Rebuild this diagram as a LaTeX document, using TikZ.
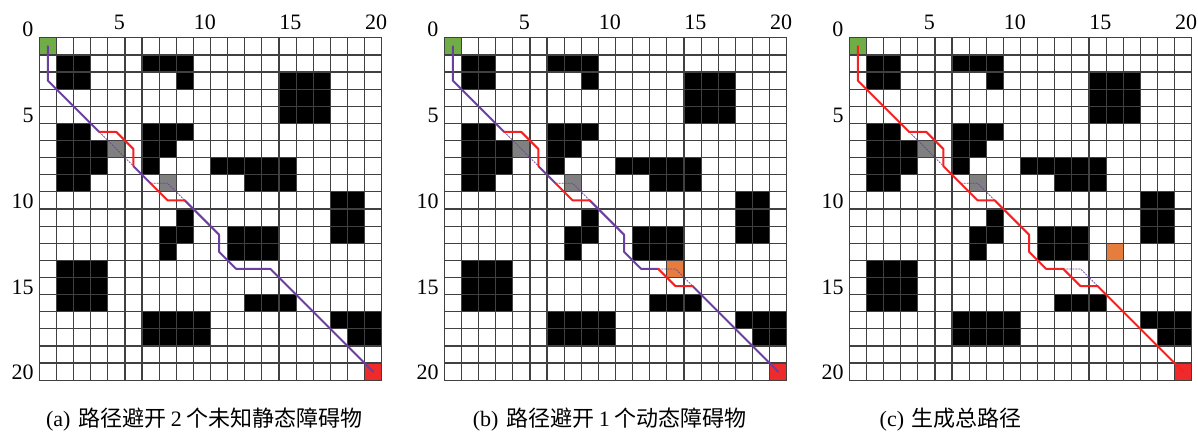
\documentclass[tikz,border=0pt]{standalone}
\usepackage{fontspec}
\setmainfont{Liberation Serif}
\newfontfamily\cjk{Noto Sans CJK SC}
\definecolor{cgreen}{HTML}{70AD47}
\definecolor{cgray}{HTML}{808080}
\definecolor{corange}{HTML}{E67C3E}
\definecolor{cred}{HTML}{EE2A2A}
\definecolor{pred}{HTML}{F62020}
\definecolor{ppurple}{HTML}{6B3FA0}
\tikzset{
  obst/.style={fill=black},
  gridln/.style={draw=black!75, line width=1.2pt, line cap=butt},
  purp/.style={draw=ppurple, line width=2pt, line join=round, line cap=round},
  redp/.style={draw=pred, line width=2pt, line join=round, line cap=round},
  orig/.style={draw=ppurple, line width=0.7pt, dash pattern=on 2pt off 1pt},
  lbl/.style={font=\fontsize{22}{22}\selectfont, inner sep=0pt},
  captext/.style={font=\fontsize{22}{22}\selectfont, inner sep=0pt, anchor=base east},
}
\newcommand\capgap{\hspace{0.22em}}
\newcommand\basemap{%
  \fill[cgreen] (0,0) rectangle (1,1);
  \fill[cred] (19,19) rectangle (20,20);
  \fill[cgray] (4,6) rectangle (5,7);
  \fill[cgray] (7,8) rectangle (8,9);
  \fill[obst] (1,1) rectangle (3,3);
  \fill[obst] (6,1) rectangle (9,2);
  \fill[obst] (8,2) rectangle (9,3);
  \fill[obst] (14,2) rectangle (17,5);
  \fill[obst] (1,5) rectangle (3,9);
  \fill[obst] (3,6) rectangle (4,8);
  \fill[obst] (6,5) rectangle (9,6);
  \fill[obst] (6,6) rectangle (8,7);
  \fill[obst] (6,7) rectangle (7,8);
  \fill[obst] (10,7) rectangle (15,8);
  \fill[obst] (12,8) rectangle (15,9);
  \fill[obst] (17,9) rectangle (19,12);
  \fill[obst] (8,10) rectangle (9,11);
  \fill[obst] (7,11) rectangle (9,12);
  \fill[obst] (7,12) rectangle (8,13);
  \fill[obst] (11,11) rectangle (14,13);
  \fill[obst] (1,13) rectangle (4,16);
  \fill[obst] (12,15) rectangle (15,16);
  \fill[obst] (6,16) rectangle (10,18);
  \fill[obst] (17,16) rectangle (20,17);
  \fill[obst] (18,17) rectangle (20,18);
}
\newcommand\gridlines[1]{%
  \draw[gridln] \foreach \i in {1,...,19} {(\i,0) -- (\i,20) (0,\i) -- (20,\i)};
  \draw[gridln, line join=miter] (0,0) rectangle (20,20);
  \node[lbl, anchor=base east] (#1z) at (-0.33,-0.06) {0};
  \foreach \c in {5,10,15,20} {
    \node[lbl, anchor=base] (#1x\c) at (\c-0.5+0.17,-0.46) {\c};
    \node[lbl, anchor=base east] (#1y\c) at (-0.32,\c-0.03) {\c};
  }
}
\begin{document}
\begin{tikzpicture}[x=1pt,y=-1pt]
\useasboundingbox (0,0) rectangle (1198,438);
\fill[white] (0,0) rectangle (1198,438);

% ---------- panel (a)
\begin{scope}[shift={(39.3pt,-37.8pt)}, x=17.12pt, y=-17.12pt]
  \basemap
  \gridlines{a}
  \draw[orig] (3.5,5.5) -- (5.5,7.5);
  \draw[orig] (6.5,8.5) -- (7.5,8.5) -- (8.5,9.5);
  \draw[purp] (0.5,0.5) -- (0.5,2.5) -- (3.5,5.5);
  \draw[purp] (5.5,7.5) -- (6.5,8.5);
  \draw[purp] (8.5,9.5) -- (10.5,11.5) -- (10.5,12.5) -- (11.5,13.5) -- (13.5,13.5) -- (19.5,19.5);
  \draw[redp] (3.5,5.5) -- (4.5,5.5) -- (5.5,6.5) -- (5.5,7.5);
  \draw[redp] (6.5,8.5) -- (7.5,9.5) -- (8.5,9.5);
\end{scope}

% ---------- panel (b)
\begin{scope}[shift={(444.3pt,-37.8pt)}, x=17.12pt, y=-17.12pt]
  \basemap
  \fill[corange] (13,13) rectangle (14,14);
  \gridlines{b}
  \draw[orig] (3.5,5.5) -- (5.5,7.5);
  \draw[orig] (6.5,8.5) -- (7.5,8.5) -- (8.5,9.5);
  \draw[orig] (12.5,13.5) -- (13.5,13.5) -- (14.5,14.5);
  \draw[purp] (0.5,0.5) -- (0.5,2.5) -- (3.5,5.5);
  \draw[purp] (5.5,7.5) -- (6.5,8.5);
  \draw[purp] (8.5,9.5) -- (10.5,11.5) -- (10.5,12.5) -- (11.5,13.5) -- (12.5,13.5);
  \draw[purp] (14.5,14.5) -- (19.5,19.5);
  \draw[redp] (3.5,5.5) -- (4.5,5.5) -- (5.5,6.5) -- (5.5,7.5);
  \draw[redp] (6.5,8.5) -- (7.5,9.5) -- (8.5,9.5);
  \draw[redp] (12.5,13.5) -- (13.5,14.5) -- (14.5,14.5);
\end{scope}

% ---------- panel (c)
\begin{scope}[shift={(849.3pt,-37.8pt)}, x=17.12pt, y=-17.12pt]
  \basemap
  \fill[corange] (15,12) rectangle (16,13);
  \gridlines{c}
  \draw[orig] (3.5,5.5) -- (5.5,7.5);
  \draw[orig] (6.5,8.5) -- (7.5,8.5) -- (8.5,9.5);
  \draw[orig] (12.5,13.5) -- (13.5,13.5) -- (14.5,14.5);
  \draw[redp] (0.5,0.5) -- (0.5,2.5) -- (3.5,5.5) -- (4.5,5.5) -- (5.5,6.5) -- (5.5,7.5)
     -- (7.5,9.5) -- (8.5,9.5) -- (10.5,11.5) -- (10.5,12.5) -- (11.5,13.5) -- (12.5,13.5)
     -- (13.5,14.5) -- (14.5,14.5) -- (19.5,19.5);
\end{scope}

% ---------- captions
\node[captext] (capa) at (363,426) {(a)\hspace{0.35em}{\cjk 路径避开}\capgap 2\capgap{\cjk 个未知静态障碍物}};
\node[captext] (capb) at (747,426) {(b)\hspace{0.35em}{\cjk 路径避开}\capgap 1\capgap{\cjk 个动态障碍物}};
\node[captext] (capc) at (1022,426) {(c)\hspace{0.35em}{\cjk 生成总路径}};
\end{tikzpicture}
\end{document}
